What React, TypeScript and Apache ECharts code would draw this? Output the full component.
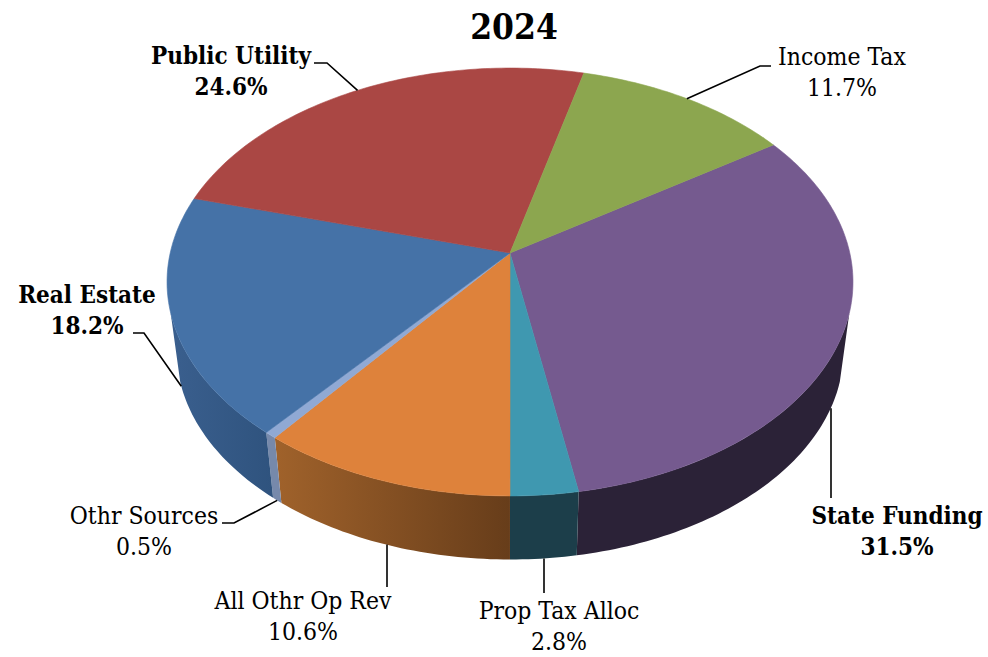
import React, { useEffect, useRef } from "react";
import * as echarts from "echarts";

// Revenue shares for 2024, clockwise from the State Funding slice.
const categories = ["State Funding", "Prop Tax Alloc", "All Othr Op Rev", "Othr Sources", "Real Estate", "Public Utility", "Income Tax"];
const shares = [31.5, 2.8, 10.6, 0.5, 18.2, 24.6, 11.7];
const emphasised = [true, false, false, false, true, true, false];

const topColors = ["#755A8F", "#3F98B0", "#DE823B", "#90A9D4", "#4572A7", "#AA4744", "#8CA64F"];
const wallColors: [string, string][] = [
  ["#2B2237", "#2B2237"],
  ["#1C3E4A", "#1C3E4A"],
  ["#A0622B", "#673D1A"],
  ["#7689AB", "#7689AB"],
  ["#3A5F8E", "#2F537E"],
  ["#6A2C2A", "#6A2C2A"],
  ["#576830", "#576830"],
];

// Label placement: text centre, then the leader's elbow and end.
const labelLayout = [
  { cx: 897, cy: 531, elbow: [831, 498], end: [831, 498], rim: "bottom" },
  { cx: 559, cy: 626, elbow: [544, 593], end: [544, 593], rim: "bottom" },
  { cx: 303, cy: 616, elbow: [387, 587], end: [387, 587], rim: "bottom" },
  { cx: 144, cy: 531, elbow: [234, 523], end: [222, 523], rim: "bottom" },
  { cx: 87, cy: 310, elbow: [144, 333], end: [133, 333], rim: "bottom" },
  { cx: 231, cy: 71, elbow: [327, 63], end: [314, 63], rim: "top" },
  { cx: 842, cy: 72, elbow: [760, 66], end: [771, 66], rim: "top" },
];

// Perspective disc geometry.
const CX = 510;
const CY = 253;
const A = 339.8;
const B = 210;
const K = 0.1355;
const BASE_SCALE = 0.972;
const BASE_SHIFT = 70.4;
const START_DEG = 56.4;
const WALL_FROM = 106;
const WALL_TO = 254;
const FONT = "'DejaVu Serif Condensed', 'DejaVu Serif', serif";

const rad = (d: number) => (d * Math.PI) / 180;

function project(deg: number, rim: "top" | "bottom"): [number, number] {
  const x = Math.sin(rad(deg));
  const y = -Math.cos(rad(deg));
  const w = 1 - K * y;
  const px = (A * x) / w;
  const py = (B * y) / w;
  return rim === "top" ? [CX + px, CY + py] : [CX + px * BASE_SCALE, CY + BASE_SHIFT + py * BASE_SCALE];
}

function sliceSpan(index: number): [number, number] {
  const total = shares.reduce((s, v) => s + v, 0);
  const before = shares.slice(0, index).reduce((s, v) => s + v, 0);
  const from = START_DEG + (before / total) * 360;
  return [from, from + (shares[index] / total) * 360];
}

function arc(from: number, to: number, rim: "top" | "bottom"): [number, number][] {
  const steps = Math.max(2, Math.ceil(Math.abs(to - from) / 1));
  const pts: [number, number][] = [];
  for (let i = 0; i <= steps; i++) pts.push(project(from + ((to - from) * i) / steps, rim));
  return pts;
}

const valueData = shares.map((v) => [v]);

function renderWall(params: any) {
  const [a0, a1] = sliceSpan(params.dataIndex);
  const from = Math.max(a0, WALL_FROM);
  const to = Math.min(a1, WALL_TO);
  if (to <= from) return { type: "group", children: [] };
  const [c0, c1] = wallColors[params.dataIndex];
  const fill = new echarts.graphic.LinearGradient(0, 0, 1, 0, [
    { offset: 0, color: c0 },
    { offset: 1, color: c1 },
  ]);
  return {
    type: "polygon",
    shape: { points: [...arc(from, to, "top"), ...arc(to, from, "bottom")] },
    style: { fill },
  };
}

function renderTop(params: any) {
  const [a0, a1] = sliceSpan(params.dataIndex);
  const color = topColors[params.dataIndex];
  return {
    type: "polygon",
    shape: { points: [[CX, CY], ...arc(a0, a1, "top")] },
    style: { fill: color, stroke: color, lineWidth: 0.6, lineJoin: "round" },
  };
}

function renderLabel(params: any, api: any) {
  const i = params.dataIndex;
  const layout = labelLayout[i];
  const [a0, a1] = sliceSpan(i);
  const anchor = project((a0 + a1) / 2, layout.rim as "top" | "bottom");
  // Straight drop lines keep the elbow's x all the way up to the rim.
  const straight = layout.elbow[0] === layout.end[0] && layout.elbow[1] === layout.end[1];
  const start = straight ? [layout.elbow[0], anchor[1]] : anchor;
  return {
    type: "group",
    children: [
      {
        type: "polyline",
        shape: { points: [start, layout.elbow, layout.end] },
        style: { fill: "none", stroke: "#000000", lineWidth: 1.6 },
      },
      {
        type: "text",
        style: {
          x: layout.cx,
          y: layout.cy,
          text: `${categories[i]}\n${api.value(0).toFixed(1)}%`,
          fill: "#000000",
          font: `${emphasised[i] ? "bold 24px" : "24.5px"} ${FONT}`,
          lineHeight: 31,
          align: "center",
          verticalAlign: "middle",
        },
      },
    ],
  };
}

export default function App() {
  const ref = useRef<HTMLDivElement>(null);

  useEffect(() => {
    const chart = echarts.init(ref.current, undefined, { renderer: "svg" });
    const series = [renderWall, renderTop, renderLabel].map((renderItem) => ({
      type: "custom",
      coordinateSystem: "none",
      silent: true,
      clip: false,
      data: valueData,
      renderItem,
    }));
    chart.setOption({
      animation: false,
      backgroundColor: "#ffffff",
      title: {
        text: "2024",
        left: 509,
        top: 4,
        textAlign: "center",
        textStyle: { fontFamily: FONT, fontWeight: "bold", fontSize: 35, color: "#000000" },
      },
      series,
    });
    return () => chart.dispose();
  }, []);

  return <div ref={ref} style={{ position: "fixed", left: 0, top: 0, width: 988, height: 657 }} />;
}
